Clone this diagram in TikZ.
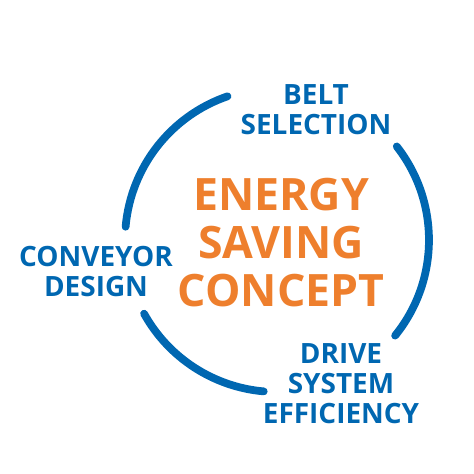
\documentclass[tikz,border=0pt]{standalone}
\usepackage{fontspec}
\setmainfont{Open Sans}
\usepackage{tikz}
\usetikzlibrary{positioning,calc}

\definecolor{ringblue}{RGB}{0,103,177}
\definecolor{conceptorange}{RGB}{238,127,45}

\begin{document}
\begin{tikzpicture}[x=0.02cm,y=0.02cm,
    ringarc/.style={draw=ringblue,line width=0.155cm,line cap=round},
    topic/.style={align=center,text=ringblue,font=\fontsize{15.9}{17}\selectfont\bfseries,inner sep=0pt},
    core/.style={align=center,text=conceptorange,font=\fontsize{25.4}{27.2}\selectfont\bfseries,inner sep=0pt}]
    \useasboundingbox (0,0) rectangle (474,474);

    \coordinate (ring) at (277,234);

    % three pieces of the ring
    \draw[ringarc] ($(ring)+(109:3.04cm)$) arc[start angle=109,end angle=175,radius=3.04cm];
    \draw[ringarc] ($(ring)+(38:3.04cm)$) arc[start angle=38,end angle=-39,radius=3.04cm];
    \draw[ringarc] ($(ring)+(209:3.04cm)$) arc[start angle=209,end angle=265,radius=3.04cm];

    \node[core] at (281,231.5) (concept) {ENERGY\\SAVING\\CONCEPT};

    \node[topic] at (316,364.5) (belt) {BELT\\SELECTION};
    \node[topic] at (96,202.5) (conveyor) {CONVEYOR\\DESIGN};
    \node[topic] at (341,90) (drive) {DRIVE\\SYSTEM\\EFFICIENCY};
\end{tikzpicture}
\end{document}
